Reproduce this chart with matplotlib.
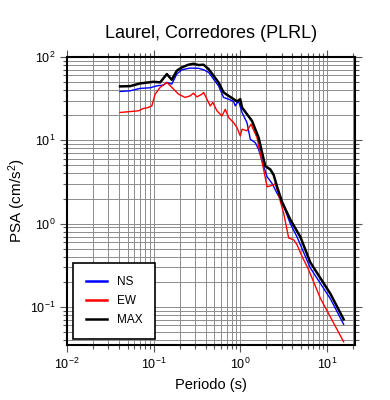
import numpy as np
import matplotlib
matplotlib.use("Agg")
import matplotlib.pyplot as plt
import matplotlib.ticker as mticker

plt.rcParams.update({
    "font.family": ["Liberation Sans", "DejaVu Sans"],
    "mathtext.fontset": "custom",
    "mathtext.rm": "Liberation Sans",
    "mathtext.it": "Liberation Sans",
})

TITLE = "Laurel, Corredores (PLRL)"

# MAX
per_max = [0.041, 0.0535, 0.0698, 0.0995, 0.119, 0.142, 0.162, 0.185, 0.212, 0.252,
           0.288, 0.330, 0.377, 0.431, 0.491, 0.561, 0.641, 0.733, 0.838, 0.917,
           1.0, 1.047, 1.195, 1.366, 1.49, 1.628, 1.782, 1.945, 2.22, 2.43,
           2.66, 3.03, 3.78, 4.94, 6.42, 11.0, 15.6]
psa_max = [44.4, 44.7, 48.2, 50.4, 49.6, 62.4, 53.3, 68.4, 75.1, 80.8,
           83.0, 80.1, 80.8, 71.6, 59.6, 49.6, 37.6, 34.2, 31.2, 29.3,
           31.2, 24.8, 20.6, 17.1, 13.6, 10.8, 7.16, 4.90, 4.48, 3.84,
           2.77, 1.83, 1.12, 0.693, 0.344, 0.1435, 0.0711]

# NS
per_ns = [0.041, 0.0535, 0.0698, 0.0912, 0.109, 0.130, 0.142, 0.162, 0.185, 0.212,
          0.264, 0.330, 0.377, 0.431, 0.491, 0.561, 0.641, 0.733, 0.838, 0.875,
          0.955, 1.047, 1.195, 1.306, 1.49, 1.628, 1.859, 2.04, 2.32, 2.66,
          3.03, 3.78, 4.52, 6.42, 11.0, 15.6]
psa_ns = [38.6, 39.3, 42.0, 42.7, 45.1, 46.0, 49.6, 47.3, 62.4, 70.3,
          73.7, 73.1, 70.3, 65.4, 54.3, 45.1, 32.7, 31.2, 29.2, 25.9,
          29.7, 21.6, 16.3, 10.3, 9.37, 7.79, 4.90, 3.66, 3.05, 2.31,
          1.83, 1.0, 0.693, 0.295, 0.125, 0.0619]

# EW
per_ew = [0.041, 0.0667, 0.0762, 0.0871, 0.0953, 0.104, 0.119, 0.142, 0.162, 0.194,
          0.231, 0.264, 0.288, 0.316, 0.361, 0.377, 0.412, 0.450, 0.483, 0.538,
          0.614, 0.672, 0.733, 0.838, 0.917, 1.0, 1.047, 1.195, 1.33, 1.56,
          1.859, 2.04, 2.43, 2.54, 3.17, 3.62, 4.13, 4.52, 5.17, 6.16,
          8.41, 12.0, 15.6]
psa_ew = [21.6, 22.6, 24.1, 24.8, 25.9, 35.8, 43.2, 49.6, 43.2, 35.8,
          32.7, 34.2, 36.8, 33.2, 35.8, 37.6, 31.2, 25.9, 28.5, 22.6,
          19.6, 23.6, 18.8, 16.3, 14.2, 11.3, 13.6, 13.0, 15.6, 10.8,
          4.48, 2.77, 2.91, 3.05, 1.33, 0.673, 0.641, 0.558, 0.404, 0.279,
          0.127, 0.0637, 0.0382]

fig = plt.figure(figsize=(3.9, 4.0), dpi=100)
ax = fig.add_axes([0.1718, 0.1375, 0.738, 0.72])

ax.plot(per_ns, psa_ns, color="blue", lw=1.0, label="NS", zorder=3)
ax.plot(per_ew, psa_ew, color="red", lw=1.0, label="EW", zorder=3)
ax.plot(per_max, psa_max, color="black", lw=1.8, label="MAX", zorder=4)

ax.set_xscale("log")
ax.set_yscale("log")
ax.set_xlim(0.01, 21)
ax.set_ylim(0.035, 100)

ax.xaxis.set_major_locator(mticker.LogLocator(base=10, numticks=10))
ax.xaxis.set_minor_locator(mticker.LogLocator(base=10, subs=np.arange(2, 10), numticks=20))
ax.yaxis.set_major_locator(mticker.LogLocator(base=10, numticks=10))
ax.yaxis.set_minor_locator(mticker.LogLocator(base=10, subs=np.arange(2, 10), numticks=20))
ax.xaxis.set_minor_formatter(mticker.NullFormatter())
ax.yaxis.set_minor_formatter(mticker.NullFormatter())

ax.grid(True, which="both", color="#8c8c8c", lw=0.7, zorder=1)
ax.set_axisbelow(True)

for s in ax.spines.values():
    s.set_linewidth(1.5)
ax.tick_params(which="both", direction="out", top=True, right=True,
               labelsize=9, width=0.8, colors="#555555", labelcolor="black")
ax.tick_params(which="major", length=5)
ax.tick_params(which="minor", length=3)

ax.set_title(TITLE, fontsize=13, pad=14)
ax.set_xlabel("Periodo (s)", fontsize=10.5, labelpad=4)
ax.set_ylabel("PSA (cm/s$^2$)", fontsize=11, labelpad=1)

leg = ax.legend(loc="lower left", fontsize=8.5, fancybox=False, framealpha=1,
                edgecolor="black", borderaxespad=0.5, handlelength=1.8,
                borderpad=1.1, labelspacing=0.6, handletextpad=0.8)
leg.get_frame().set_linewidth(1.2)
for h in leg.get_lines():
    h.set_linewidth(1.8)

fig.savefig("out.png", dpi=100)
